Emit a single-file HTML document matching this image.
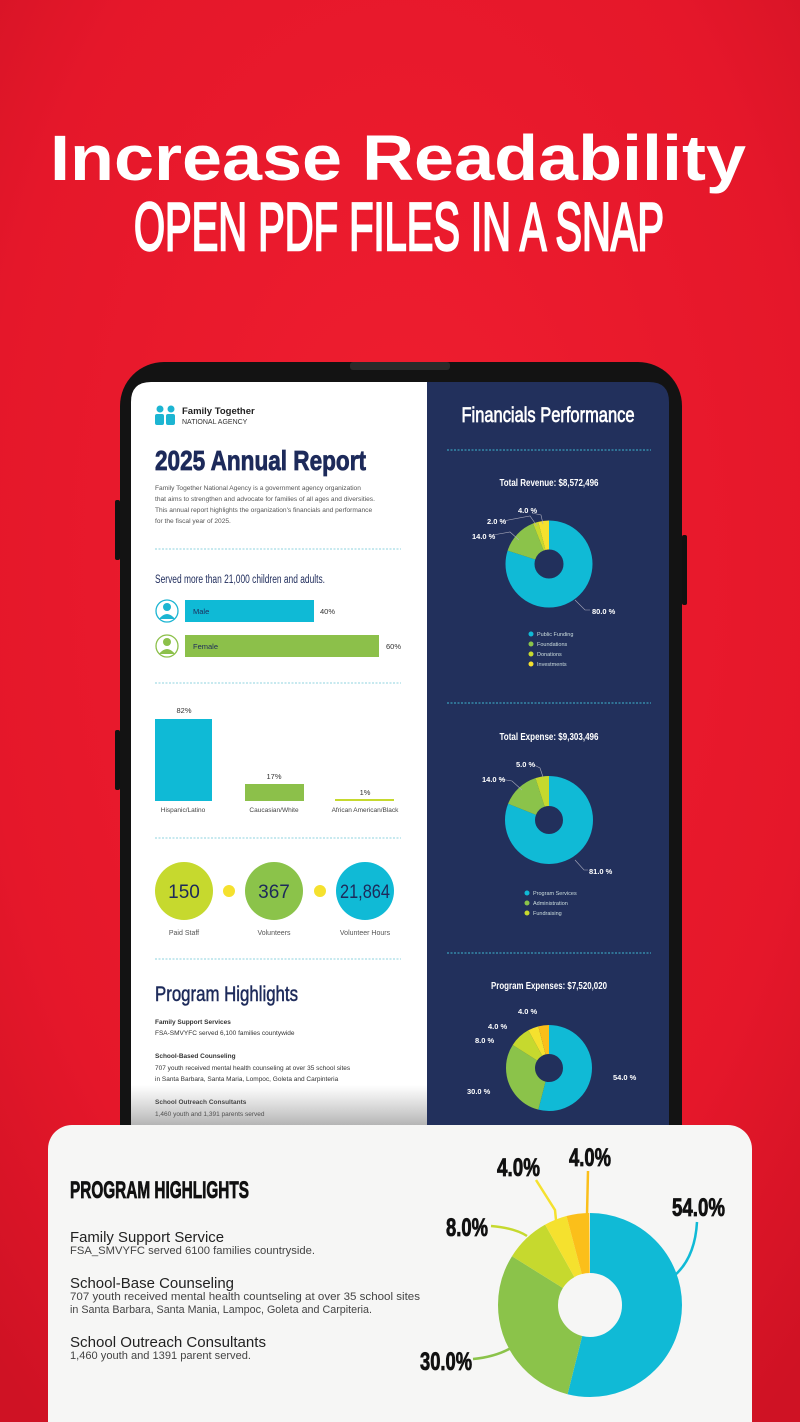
<!DOCTYPE html>
<html><head><meta charset="utf-8"><style>
html,body{margin:0;padding:0;width:800px;height:1422px;overflow:hidden;background:#e9182b}
svg{display:block}
.c{font-family:"Liberation Sans Narrow","Liberation Sans",sans-serif}
.s{font-family:"Liberation Sans",sans-serif}
</style></head><body>
<svg width="800" height="1422" viewBox="0 0 800 1422" xmlns="http://www.w3.org/2000/svg">
<defs>
<radialGradient id="bg" cx="50%" cy="40%" r="75%">
<stop offset="0" stop-color="#f01e30"/><stop offset="0.7" stop-color="#e5172a"/><stop offset="1" stop-color="#cf1224"/>
</radialGradient>
<linearGradient id="fade" x1="0" y1="0" x2="0" y2="1">
<stop offset="0" stop-color="#888" stop-opacity="0"/><stop offset="1" stop-color="#777" stop-opacity="0.55"/>
</linearGradient>
</defs>
<rect width="800" height="1422" fill="url(#bg)"/>

<text x="398" y="180" text-anchor="middle" class="s" font-weight="bold" font-size="64" fill="#fff" textLength="696" lengthAdjust="spacingAndGlyphs">Increase Readability</text>
<text x="399" y="250" text-anchor="middle" class="c" font-size="68" fill="#fff" stroke="#fff" stroke-width="2.5" textLength="530" lengthAdjust="spacingAndGlyphs">OPEN PDF FILES IN A SNAP</text>

<!-- phone -->
<rect x="682" y="535" width="5" height="70" rx="2" fill="#111"/>
<rect x="115" y="500" width="5" height="60" rx="2" fill="#111"/>
<rect x="115" y="730" width="5" height="60" rx="2" fill="#111"/>
<rect x="120" y="362" width="562" height="820" rx="44" fill="#131313"/>
<rect x="350" y="362" width="100" height="8" rx="3" fill="#2a2a2a"/>
<path d="M131 1125 V402 Q131 382 151 382 H427 V1125 Z" fill="#fff"/>
<path d="M427 382 H649 Q669 382 669 402 V1125 H427 Z" fill="#22305c"/>

<!-- left content -->
<g fill="#1cb5d2">
<circle cx="160" cy="409" r="3.5"/><circle cx="171" cy="409" r="3.5"/>
<rect x="155" y="414" width="9" height="11" rx="2"/><rect x="166" y="414" width="9" height="11" rx="2"/>
</g>
<text x="182" y="414" class="s" font-weight="bold" font-size="9.5" fill="#222">Family Together</text>
<text x="182" y="424" class="s" font-size="7" fill="#333">NATIONAL AGENCY</text>
<text x="155" y="470" class="c" font-weight="bold" font-size="28" fill="#1d2a5a" stroke="#1d2a5a" stroke-width="0.8" textLength="211" lengthAdjust="spacingAndGlyphs">2025 Annual Report</text>
<g class="s" font-size="6.6" fill="#555">
<text x="155" y="490">Family Together National Agency is a government agency organization</text>
<text x="155" y="501">that aims to strengthen and advocate for families of all ages and diversities.</text>
<text x="155" y="512">This annual report highlights the organization's financials and performance</text>
<text x="155" y="523">for the fiscal year of 2025.</text>
</g>
<g stroke="#8fd3df" stroke-width="1" stroke-dasharray="2 1.5">
<line x1="155" y1="549" x2="401" y2="549"/><line x1="155" y1="683" x2="401" y2="683"/>
<line x1="155" y1="838" x2="401" y2="838"/><line x1="155" y1="959" x2="401" y2="959"/>
</g>
<text x="155" y="583" class="c" font-size="11.5" fill="#1d2a5a" textLength="170" lengthAdjust="spacingAndGlyphs">Served more than 21,000 children and adults.</text>
<circle cx="167" cy="611" r="11" fill="#fff" stroke="#1cb5d2" stroke-width="1.3"/>
<circle cx="167" cy="607" r="4" fill="#1cb5d2"/><path d="M159 619 Q167 609 175 619 Z" fill="#1cb5d2"/>
<rect x="185" y="600" width="129" height="22" fill="#0fbad6"/>
<text x="193" y="614" class="s" font-size="7.5" fill="#1d2a5a">Male</text>
<text x="320" y="614" class="s" font-size="7.5" fill="#333">40%</text>
<circle cx="167" cy="646" r="11" fill="#fff" stroke="#8cc04a" stroke-width="1.3"/>
<circle cx="167" cy="642" r="4" fill="#8cc04a"/><path d="M159 654 Q167 644 175 654 Z" fill="#8cc04a"/>
<rect x="185" y="635" width="194" height="22" fill="#8cc04a"/>
<text x="193" y="649" class="s" font-size="7.5" fill="#1d2a5a">Female</text>
<text x="386" y="649" class="s" font-size="7.5" fill="#333">60%</text>

<text x="184" y="713" text-anchor="middle" class="s" font-size="7.5" fill="#333">82%</text>
<rect x="155" y="719" width="57" height="82" fill="#0fbad6"/>
<text x="274" y="779" text-anchor="middle" class="s" font-size="7.5" fill="#333">17%</text>
<rect x="245" y="784" width="59" height="17" fill="#8cc04a"/>
<text x="365" y="795" text-anchor="middle" class="s" font-size="7.5" fill="#333">1%</text>
<rect x="335" y="799" width="59" height="2" fill="#c6d92e"/>
<g class="s" font-size="6.5" fill="#444" text-anchor="middle">
<text x="183" y="812">Hispanic/Latino</text><text x="274" y="812">Caucasian/White</text><text x="365" y="812">African American/Black</text>
</g>

<circle cx="184" cy="891" r="29" fill="#c6d92e"/>
<circle cx="274" cy="891" r="29" fill="#8bc34a"/>
<circle cx="365" cy="891" r="29" fill="#10bad6"/>
<circle cx="229" cy="891" r="6" fill="#f5e12e"/><circle cx="320" cy="891" r="6" fill="#f5e12e"/>
<g class="c" font-size="19" fill="#1d2a5a" text-anchor="middle">
<text x="184" y="898">150</text><text x="274" y="898">367</text><text x="365" y="898" textLength="50" lengthAdjust="spacingAndGlyphs">21,864</text>
</g>
<g class="s" font-size="7" fill="#555" text-anchor="middle">
<text x="184" y="935">Paid Staff</text><text x="274" y="935">Volunteers</text><text x="365" y="935">Volunteer Hours</text>
</g>

<text x="155" y="1001" class="c" font-size="21" fill="#1d2a5a" stroke="#1d2a5a" stroke-width="0.5" textLength="143" lengthAdjust="spacingAndGlyphs">Program Highlights</text>
<g class="s" font-size="6.5" fill="#333">
<text x="155" y="1024" font-weight="bold">Family Support Services</text>
<text x="155" y="1035">FSA-SMVYFC served 6,100 families countywide</text>
<text x="155" y="1058" font-weight="bold">School-Based Counseling</text>
<text x="155" y="1070">707 youth received mental health counseling at over 35 school sites</text>
<text x="155" y="1081">in Santa Barbara, Santa Maria, Lompoc, Goleta and Carpinteria</text>
<text x="155" y="1104" font-weight="bold">School Outreach Consultants</text>
<text x="155" y="1116">1,460 youth and 1,391 parents served</text>
</g>
<rect x="131" y="1085" width="296" height="40" fill="url(#fade)"/>

<!-- right content -->
<text x="548" y="422" text-anchor="middle" class="c" font-size="21" fill="#fff" stroke="#fff" stroke-width="0.7" textLength="173" lengthAdjust="spacingAndGlyphs">Financials Performance</text>
<g stroke="#3fb6cf" stroke-width="1" stroke-dasharray="2 1.5">
<line x1="447" y1="450" x2="651" y2="450"/><line x1="447" y1="703" x2="651" y2="703"/><line x1="447" y1="953" x2="651" y2="953"/>
</g>
<g class="c" font-weight="bold" font-size="10" fill="#fff" text-anchor="middle">
<text x="549" y="486" textLength="99" lengthAdjust="spacingAndGlyphs">Total Revenue: $8,572,496</text>
<text x="549" y="740" textLength="99" lengthAdjust="spacingAndGlyphs">Total Expense: $9,303,496</text>
<text x="549" y="989" textLength="116" lengthAdjust="spacingAndGlyphs">Program Expenses: $7,520,020</text>
</g>

<!-- donut 1 -->
<g fill="none" stroke-width="29" transform="rotate(-90 549 564)">
<circle cx="549" cy="564" r="29" pathLength="100" stroke="#10bad6" stroke-dasharray="80 100"/>
<circle cx="549" cy="564" r="29" pathLength="100" stroke="#8bc34a" stroke-dasharray="14 100" stroke-dashoffset="-80"/>
<circle cx="549" cy="564" r="29" pathLength="100" stroke="#c6d92e" stroke-dasharray="2 100" stroke-dashoffset="-94"/>
<circle cx="549" cy="564" r="29" pathLength="100" stroke="#f5e12e" stroke-dasharray="4 100" stroke-dashoffset="-96"/>
</g>
<g fill="none" stroke="#aab" stroke-width="0.6">
<path d="M532 513 L541 515 L543 524"/><path d="M503 521 L530 516 L537 526"/><path d="M493 535 L510 532 L519 540"/><path d="M575 600 L585 610 L590 610"/>
</g>
<g class="c" font-weight="bold" font-size="7.5" fill="#fff">
<text x="518" y="513">4.0 %</text><text x="487" y="524">2.0 %</text><text x="472" y="539">14.0 %</text><text x="592" y="614">80.0 %</text>
</g>
<g class="s" font-size="5.5" fill="#cdd">
<circle cx="531" cy="634" r="2.5" fill="#10bad6"/><text x="537" y="636">Public Funding</text>
<circle cx="531" cy="644" r="2.5" fill="#8bc34a"/><text x="537" y="646">Foundations</text>
<circle cx="531" cy="654" r="2.5" fill="#c6d92e"/><text x="537" y="656">Donations</text>
<circle cx="531" cy="664" r="2.5" fill="#f5e12e"/><text x="537" y="666">Investments</text>
</g>

<!-- donut 2 -->
<g fill="none" stroke-width="30" transform="rotate(-90 549 820)">
<circle cx="549" cy="820" r="29" pathLength="100" stroke="#10bad6" stroke-dasharray="81 100"/>
<circle cx="549" cy="820" r="29" pathLength="100" stroke="#8bc34a" stroke-dasharray="14 100" stroke-dashoffset="-81"/>
<circle cx="549" cy="820" r="29" pathLength="100" stroke="#c6d92e" stroke-dasharray="5 100" stroke-dashoffset="-95"/>
</g>
<g fill="none" stroke="#aab" stroke-width="0.6">
<path d="M534 765 L540 768 L543 777"/><path d="M500 779 L512 781 L522 790"/><path d="M575 860 L584 870 L588 870"/>
</g>
<g class="c" font-weight="bold" font-size="7.5" fill="#fff">
<text x="516" y="767">5.0 %</text><text x="482" y="782">14.0 %</text><text x="589" y="874">81.0 %</text>
</g>
<g class="s" font-size="5.5" fill="#cdd">
<circle cx="527" cy="893" r="2.5" fill="#10bad6"/><text x="533" y="895">Program Services</text>
<circle cx="527" cy="903" r="2.5" fill="#8bc34a"/><text x="533" y="905">Administration</text>
<circle cx="527" cy="913" r="2.5" fill="#c6d92e"/><text x="533" y="915">Fundraising</text>
</g>

<!-- donut 3 -->
<g fill="none" stroke-width="29" transform="rotate(-90 549 1068)">
<circle cx="549" cy="1068" r="28.5" pathLength="100" stroke="#10bad6" stroke-dasharray="54 100"/>
<circle cx="549" cy="1068" r="28.5" pathLength="100" stroke="#8bc34a" stroke-dasharray="30 100" stroke-dashoffset="-54"/>
<circle cx="549" cy="1068" r="28.5" pathLength="100" stroke="#c6d92e" stroke-dasharray="8 100" stroke-dashoffset="-84"/>
<circle cx="549" cy="1068" r="28.5" pathLength="100" stroke="#f5e12e" stroke-dasharray="4 100" stroke-dashoffset="-92"/>
<circle cx="549" cy="1068" r="28.5" pathLength="100" stroke="#fbbf1a" stroke-dasharray="4 100" stroke-dashoffset="-96"/>
</g>
<g class="c" font-weight="bold" font-size="7.5" fill="#fff">
<text x="518" y="1014">4.0 %</text><text x="488" y="1029">4.0 %</text><text x="475" y="1043">8.0 %</text><text x="613" y="1080">54.0 %</text><text x="467" y="1094">30.0 %</text>
</g>

<!-- bottom card -->
<rect x="48" y="1125" width="704" height="330" rx="24" fill="#f6f6f5"/>
<text x="70" y="1198" class="c" font-weight="bold" font-size="24" fill="#111" stroke="#111" stroke-width="0.8" textLength="179" lengthAdjust="spacingAndGlyphs">PROGRAM HIGHLIGHTS</text>
<g class="s" fill="#222">
<text x="70" y="1242" font-size="15" textLength="154" lengthAdjust="spacingAndGlyphs">Family Support Service</text>
<text x="70" y="1254" font-size="11" fill="#444" textLength="245" lengthAdjust="spacingAndGlyphs">FSA_SMVYFC served 6100 families countryside.</text>
<text x="70" y="1288" font-size="15" textLength="164" lengthAdjust="spacingAndGlyphs">School-Base Counseling</text>
<text x="70" y="1300" font-size="11" fill="#444" textLength="350" lengthAdjust="spacingAndGlyphs">707 youth received mental health countseling at over 35 school sites</text>
<text x="70" y="1313" font-size="11" fill="#444" textLength="302" lengthAdjust="spacingAndGlyphs">in Santa Barbara, Santa Mania, Lampoc, Goleta and Carpiteria.</text>
<text x="70" y="1347" font-size="15" textLength="196" lengthAdjust="spacingAndGlyphs">School Outreach Consultants</text>
<text x="70" y="1359" font-size="11" fill="#444" textLength="181" lengthAdjust="spacingAndGlyphs">1,460 youth and 1391 parent served.</text>
</g>

<g fill="none" stroke-width="60" transform="rotate(-90 590 1305)">
<circle cx="590" cy="1305" r="62" pathLength="100" stroke="#10bad6" stroke-dasharray="54 100"/>
<circle cx="590" cy="1305" r="62" pathLength="100" stroke="#8bc34a" stroke-dasharray="30 100" stroke-dashoffset="-54"/>
<circle cx="590" cy="1305" r="62" pathLength="100" stroke="#c6d92e" stroke-dasharray="8 100" stroke-dashoffset="-84"/>
<circle cx="590" cy="1305" r="62" pathLength="100" stroke="#f5e12e" stroke-dasharray="4 100" stroke-dashoffset="-92"/>
<circle cx="590" cy="1305" r="62" pathLength="100" stroke="#fbbf1a" stroke-dasharray="4 100" stroke-dashoffset="-96"/>
</g>
<g fill="none" stroke-width="2.5">
<path d="M697 1222 Q695 1258 674 1276" stroke="#10bad6"/>
<path d="M588 1171 L587 1215" stroke="#fbbf1a"/>
<path d="M536 1180 L555 1210 L556 1220" stroke="#f5e12e"/>
<path d="M491 1226 Q515 1228 527 1236" stroke="#c6d92e"/>
<path d="M473 1359 Q495 1357 511 1348" stroke="#8bc34a"/>
</g>
<g class="c" font-weight="bold" font-size="25" fill="#111" stroke="#111" stroke-width="0.8">
<text x="497" y="1176" textLength="43" lengthAdjust="spacingAndGlyphs">4.0%</text>
<text x="569" y="1166" textLength="42" lengthAdjust="spacingAndGlyphs">4.0%</text>
<text x="672" y="1216" textLength="53" lengthAdjust="spacingAndGlyphs">54.0%</text>
<text x="446" y="1236" textLength="42" lengthAdjust="spacingAndGlyphs">8.0%</text>
<text x="420" y="1370" textLength="52" lengthAdjust="spacingAndGlyphs">30.0%</text>
</g>
</svg>
</body></html>
